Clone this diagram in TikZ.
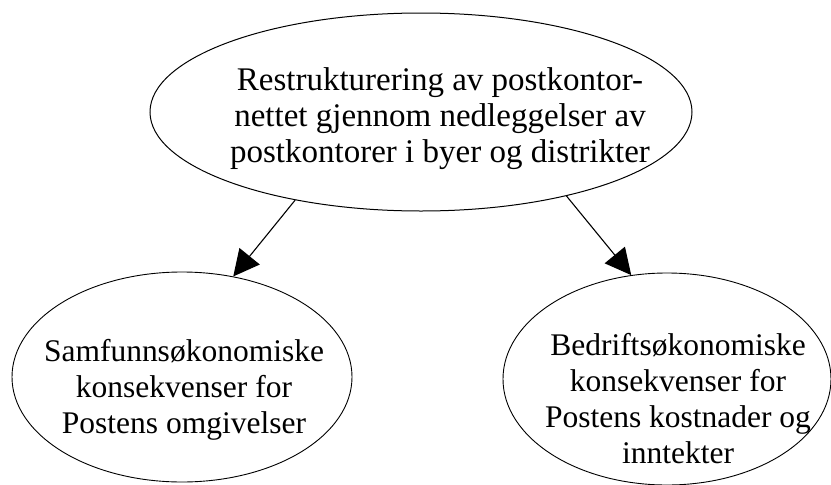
\documentclass[tikz,border=0pt]{standalone}
\usepackage{fontspec}
\setmainfont{Liberation Serif}
\usetikzlibrary {shapes.geometric}
\usetikzlibrary {arrows.meta}
\tikzset{
ovalA/.style={ellipse,draw=black,line width=1pt,inner sep=0pt,minimum width=542pt,minimum height=198pt}
}
\tikzset{
ovalB/.style={ellipse,draw=black,line width=0.9pt,inner sep=0pt,minimum width=340pt,minimum height=210pt}
}
\tikzset{
ovalC/.style={ellipse,draw=black,line width=0.9pt,inner sep=0pt,minimum width=328pt,minimum height=212pt}
}
\tikzset{
txtA/.style={align=center,font=\fontsize{33}{36}\selectfont},
txtB/.style={align=center,font=\fontsize{31.5}{36}\selectfont},
pil/.style={line width=1.1pt,-{Triangle[length=26pt,width=26pt]}}
}

\begin{document}
\begin{tikzpicture}[x=1pt,y=-1pt]
\useasboundingbox (0,0) rectangle (831,485);

\node[ovalA] (R) at (421,112) {};
\node[txtA] (Rt) at (440,119) {Restrukturering av postkontor-\\nettet gjennom nedleggelser av\\postkontorer i byer og distrikter};
%------------------------------------------------------------------------------------------------------------%
\node[ovalB] (S) at (182,377) {};
\node[txtB] (St) at (184,390) {Samfunnsøkonomiske\\konsekvenser for\\Postens omgivelser};
%------------------------------------------------------------------------------------------------------------%
\node[ovalC] (B) at (667,379) {};
\node[txtB,yshift=0pt] (Bt) at (678,399) {Bedriftsøkonomiske\\konsekvenser for\\Postens kostnader og\\inntekter};
%------------------------------------------------------------------------------------------------------------%
\draw[pil] (R.215) -- (S.63);
\draw[pil] (R.330) -- (B.109);

\end{tikzpicture}
\end{document}
